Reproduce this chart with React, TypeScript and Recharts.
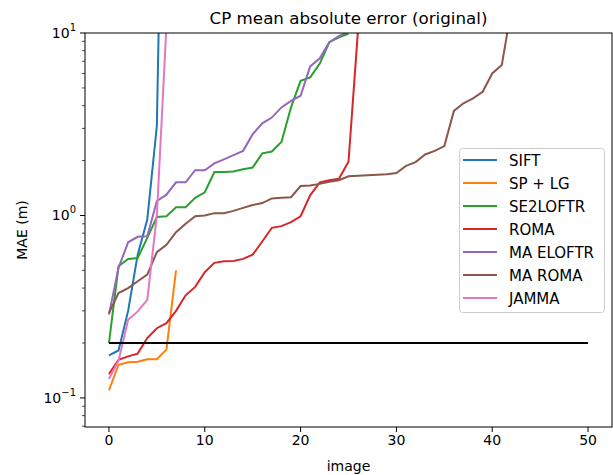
import React from 'react';
import { LineChart, Line, XAxis, YAxis } from 'recharts';

// MAE per image (index = image number)
const sift = [0.171, 0.182, 0.3, 0.61, 0.95, 3.1, 2000];
const spLg = [0.11, 0.152, 0.157, 0.158, 0.163, 0.163, 0.184, 0.5];
const se2loftr = [
  0.2, 0.527, 0.578, 0.585, 0.754, 0.98, 0.99, 1.11, 1.11, 1.25, 1.34, 1.73, 1.73, 1.74, 1.79, 1.83,
  2.19, 2.24, 2.53, 3.91, 5.47, 5.71, 6.8, 8.9, 9.47, 9.9,
];
const roma = [
  0.135, 0.162, 0.169, 0.175, 0.213, 0.241, 0.257, 0.3, 0.365, 0.406, 0.489, 0.55, 0.561, 0.563, 0.578,
  0.61, 0.72, 0.856, 0.874, 0.92, 0.99, 1.29, 1.52, 1.56, 1.59, 1.97, 10.5,
];
const maEloftr = [
  0.286, 0.516, 0.713, 0.764, 0.77, 1.2, 1.3, 1.52, 1.52, 1.77, 1.77, 1.93, 2.03, 2.14, 2.26, 2.79,
  3.2, 3.44, 3.91, 4.25, 4.53, 6.56, 7.26, 8.9, 9.6, 10.2,
];
const maRoma = [
  0.292, 0.376, 0.4, 0.436, 0.474, 0.63, 0.69, 0.81, 0.9, 0.99, 1.0, 1.03, 1.03, 1.06, 1.1, 1.14,
  1.17, 1.24, 1.25, 1.26, 1.45, 1.46, 1.49, 1.53, 1.56, 1.64, 1.65, 1.66, 1.67, 1.68, 1.71, 1.87,
  1.96, 2.16, 2.26, 2.4, 3.74, 4.12, 4.38, 4.76, 6.0, 6.67, 13.6,
];
const jamma = [0.127, 0.16, 0.268, 0.298, 0.345, 1.0, 11];

const seriesNames = ['SIFT', 'SP + LG', 'SE2LOFTR', 'ROMA', 'MA ELOFTR', 'MA ROMA', 'JAMMA'];
const seriesValues = [sift, spLg, se2loftr, roma, maEloftr, maRoma, jamma];
const seriesColors = ['#1f77b4', '#ff7f0e', '#2ca02c', '#d62728', '#9467bd', '#8c564b', '#e377c2'];

// horizontal threshold line
const thresholdX = [0, 50];
const thresholdY = [0.2, 0.2];

const xTicks = [0, 10, 20, 30, 40, 50];
const yTicks = [
  0.07, 0.08, 0.09, 0.1, 0.2, 0.3, 0.4, 0.5, 0.6, 0.7, 0.8, 0.9, 1, 2, 3, 4, 5, 6, 7, 8, 9, 10,
];

const FONT = '"DejaVu Sans", sans-serif';

const toPoints = (xs: number[], ys: number[]) => ys.map((v, i) => ({ image: xs[i], mae: v }));

const YTick = (props: any) => {
  const { x, y, payload } = props;
  const exp = Math.log10(payload.value);
  const major = Math.abs(exp - Math.round(exp)) < 1e-6;
  const e = Math.round(exp);
  return (
    <g>
      <line x1={x - (major ? 5 : 3)} x2={x} y1={y} y2={y} stroke="#000" strokeWidth={major ? 1 : 0.7} />
      {major && (
        <text x={x - 9} y={y + 5} textAnchor="end" fontSize={14} fill="#000" fontFamily={FONT}>
          10
          <tspan dy={-7} fontSize={10}>
            {e < 0 ? '\u2212' + Math.abs(e) : String(e)}
          </tspan>
        </text>
      )}
    </g>
  );
};

export default function App() {
  const idx = (vals: number[]) => vals.map((_, i) => i);
  return (
    <div style={{ position: 'absolute', left: 0, top: 0, width: 613, height: 475, background: '#fff' }}>
      <LineChart width={613} height={475} margin={{ top: 33, right: 1, bottom: 18, left: 25 }}>
        <XAxis
          type="number"
          dataKey="image"
          domain={[-2.5, 52.5]}
          ticks={xTicks}
          interval={0}
          allowDataOverflow
          axisLine={false}
          tickSize={5}
          tickMargin={3}
          tickLine={{ stroke: '#000' }}
          tick={{ fill: '#000', fontSize: 14, fontFamily: FONT }}
          height={30}
        />
        <YAxis
          type="number"
          scale="log"
          domain={[0.0693, 10]}
          ticks={yTicks}
          interval={0}
          allowDataOverflow
          axisLine={false}
          tickLine={false}
          tickSize={0}
          tickMargin={0}
          tick={<YTick />}
          width={60}
        />
        {seriesValues.map((vals, k) => (
          <Line
            key={seriesNames[k]}
            data={toPoints(idx(vals), vals)}
            dataKey="mae"
            name={seriesNames[k]}
            type="linear"
            stroke={seriesColors[k]}
            strokeWidth={2}
            dot={false}
            isAnimationActive={false}
          />
        ))}
        <Line
          data={toPoints(thresholdX, thresholdY)}
          dataKey="mae"
          type="linear"
          stroke="#000"
          strokeWidth={2}
          dot={false}
          legendType="none"
          isAnimationActive={false}
        />
      </LineChart>
      <svg
        width={613}
        height={475}
        style={{ position: 'absolute', left: 0, top: 0, pointerEvents: 'none' }}
        fontFamily={FONT}
      >
        <rect x={85} y={33} width={527} height={394} fill="none" stroke="#000" strokeWidth={1} />
        <text x={348.5} y={24} textAnchor="middle" fontSize={16.7} fill="#000">
          CP mean absolute error (original)
        </text>
        <text x={348.5} y={471} textAnchor="middle" fontSize={14} fill="#000">
          image
        </text>
        <text transform="translate(27,230) rotate(-90)" textAnchor="middle" fontSize={14} fill="#000">
          MAE (m)
        </text>
        <rect x={459.5} y={148.5} width={145} height={164} rx={3} fill="#fff" fillOpacity={0.8} stroke="#cccccc" />
        {seriesNames.map((name, k) => (
          <g key={name}>
            <line x1={463} x2={497} y1={160 + 23 * k} y2={160 + 23 * k} stroke={seriesColors[k]} strokeWidth={2} />
            <text x={509} y={160 + 23 * k + 5.5} fontSize={15} fill="#000">
              {name}
            </text>
          </g>
        ))}
      </svg>
    </div>
  );
}
